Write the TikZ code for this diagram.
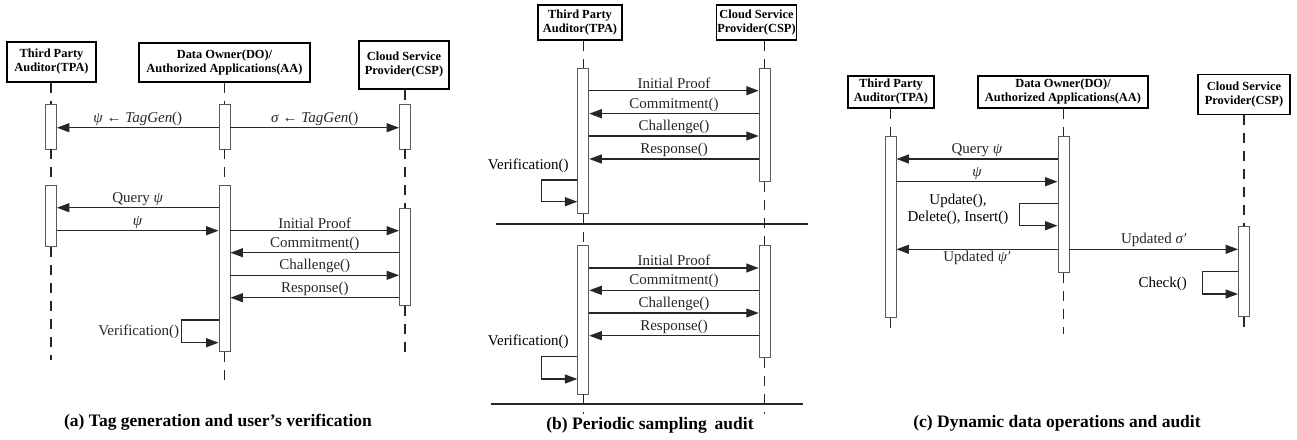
\documentclass[tikz,border=0pt]{standalone}
\usepackage{fontspec}
\setmainfont{Liberation Serif}
\usepackage{tikz}
\usetikzlibrary{arrows.meta}

\begin{document}
\begin{tikzpicture}[x=1pt, y=-1pt,
                      actorbox/.style={rectangle, draw, line width=1.2pt, align=center, inner sep=1pt, font=\fontsize{12.4}{14}\selectfont\bfseries},
                      actbox/.style={rectangle, draw=black!65, fill=white, line width=0.9pt, minimum width=11pt, inner sep=0pt},
                      lifeline/.style={dash pattern=on 10pt off 8pt, line width=1.1pt, black!85},
                      msg/.style={-{Triangle[length=12.5pt,width=9pt]}, line width=1.3pt, black!85},
                      lbl/.style={font=\fontsize{15}{17.5}\selectfont, inner sep=1.5pt},
                      caption/.style={font=\fontsize{17.5}{20}\selectfont\bfseries},
                  ]
                  \useasboundingbox (0,0) rectangle (1297,439);

                  %               %Nodes (a)
                  \node[actorbox, minimum width=89pt, minimum height=40pt]  (hA_T) at (51.5,62)  {Third Party\\Auditor(TPA)};
                  \node[actorbox, minimum width=171pt, minimum height=39pt] (hA_D) at (224.5,62.5) {Data Owner(DO)/\\Authorized Applications(AA)};
                  \node[actorbox, minimum width=90pt, minimum height=48pt]  (hA_C) at (404,65)   {Cloud Service\\Provider(CSP)};
                  \node[actbox, minimum height=45pt]    (aA_T1) at (51,126.5)    {};
                  \node[actbox, minimum height=45pt]    (aA_D1) at (224.5,126.5) {};
                  \node[actbox, minimum height=45pt]    (aA_C1) at (405,126.5)   {};
                  \node[actbox, minimum height=61pt]    (aA_T2) at (51,216.2)    {};
                  \node[actbox, minimum height=166pt]   (aA_D2) at (224.5,268.7) {};
                  \node[actbox, minimum height=96.7pt]  (aA_C2) at (405,256.7)   {};
                  \coordinate (eA_T) at (51,360);
                  \coordinate (eA_D) at (224.5,387);
                  \coordinate (eA_C) at (405,358);

                  %               %Nodes (b)
                  \node[actorbox, minimum width=84pt, minimum height=35pt]  (hB_T) at (580,22.5)   {Third Party\\Auditor(TPA)};
                  \node[actorbox, minimum width=77pt, minimum height=35pt]  (hB_C) at (756.5,22.5) {Cloud Service\\Provider(CSP)};
                  \node[actbox, minimum height=145pt]   (aB_T1) at (583.3,140.8) {};
                  \node[actbox, minimum height=112.7pt] (aB_C1) at (764.7,124.7) {};
                  \node[actbox, minimum height=149pt]   (aB_T2) at (583.3,319.5) {};
                  \node[actbox, minimum height=112.7pt] (aB_C2) at (764.7,301.3) {};
                  \coordinate (eB_T) at (583.3,414);
                  \coordinate (eB_C) at (764.7,414);

                  %               %Nodes (c)
                  \node[actorbox, minimum width=86pt, minimum height=32pt]  (hC_T) at (891,92)    {Third Party\\Auditor(TPA)};
                  \node[actorbox, minimum width=170pt, minimum height=32pt] (hC_D) at (1063,92)   {Data Owner(DO)/\\Authorized Applications(AA)};
                  \node[actorbox, minimum width=92pt, minimum height=40pt]  (hC_C) at (1244,94.3) {Cloud Service\\Provider(CSP)};
                  \node[actbox, minimum height=181pt]   (aC_T) at (890.5,227.2) {};
                  \node[actbox, minimum height=136pt]   (aC_D) at (1063.5,204.7) {};
                  \node[actbox, minimum height=90pt]    (aC_C) at (1244,271.7)  {};
                  \coordinate (eC_T) at (890.5,333);
                  \coordinate (eC_D) at (1063.5,334);
                  \coordinate (eC_C) at (1244,330);

                  %   %Lifelines
                  \draw[lifeline] (hA_T.south -| aA_T1) -- (aA_T1.north) (aA_T1.south) -- (aA_T2.north) (aA_T2.south) -- (eA_T);
                  \draw[lifeline] (hA_D.south -| aA_D1) -- (aA_D1.north) (aA_D1.south) -- (aA_D2.north) (aA_D2.south) -- (eA_D);
                  \draw[lifeline] (hA_C.south -| aA_C1) -- (aA_C1.north) (aA_C1.south) -- (aA_C2.north) (aA_C2.south) -- (eA_C);
                  \draw[lifeline] (hB_T.south -| aB_T1) -- (aB_T1.north) (aB_T1.south) -- (aB_T2.north) (aB_T2.south) -- (eB_T);
                  \draw[lifeline] (hB_C.south -| aB_C1) -- (aB_C1.north) (aB_C1.south) -- (aB_C2.north) (aB_C2.south) -- (eB_C);
                  \draw[lifeline] (hC_T.south -| aC_T) -- (aC_T.north) (aC_T.south) -- (eC_T);
                  \draw[lifeline] (hC_D.south -| aC_D) -- (aC_D.north) (aC_D.south) -- (eC_D);
                  \draw[lifeline] (hC_C.south -| aC_C) -- (aC_C.north) (aC_C.south) -- (eC_C);

                  %   %Lines (a)
                  \draw[msg] (aA_D1.west |- 0,127.7) -- (aA_T1.east |- 0,127.7) node[midway, above, lbl] {\textit{ψ} ← \textit{TagGen}()};
                  \draw[msg] (aA_D1.east |- 0,127.7) -- (aA_C1.west |- 0,127.7) node[midway, above, lbl] {\textit{σ} ← \textit{TagGen}()};
                  \draw[msg] (aA_D2.west |- 0,207.7) -- (aA_T2.east |- 0,207.7) node[midway, above, lbl] {Query \textit{ψ}};
                  \draw[msg] (aA_T2.east |- 0,230.7) -- (aA_D2.west |- 0,230.7) node[midway, above, lbl] {\textit{ψ}};
                  \draw[msg] (aA_D2.east |- 0,230.7) -- (aA_C2.west |- 0,230.7) node[midway, above, lbl] {Initial Proof};
                  \draw[msg] (aA_C2.west |- 0,252.7) -- (aA_D2.east |- 0,252.7) node[midway, above, lbl] {Commitment()};
                  \draw[msg] (aA_D2.east |- 0,275.3) -- (aA_C2.west |- 0,275.3) node[midway, above, lbl] {Challenge()};
                  \draw[msg] (aA_C2.west |- 0,297.7) -- (aA_D2.east |- 0,297.7) node[midway, above, lbl] {Response()};
                  \draw[msg] (aA_D2.west |- 0,320) -- ++(-37.3,0) -- ++(0,22.7) node[midway, left, lbl] {Verification()} -- (aA_D2.west |- 0,342.7);

                  %   %Lines (b)
                  \draw[msg] (aB_T1.east |- 0,90.7)  -- (aB_C1.west |- 0,90.7)  node[midway, above, lbl] {Initial Proof};
                  \draw[msg] (aB_C1.west |- 0,113.7) -- (aB_T1.east |- 0,113.7) node[midway, above, lbl] {Commitment()};
                  \draw[msg] (aB_T1.east |- 0,136)   -- (aB_C1.west |- 0,136)   node[midway, above, lbl] {Challenge()};
                  \draw[msg] (aB_C1.west |- 0,159)   -- (aB_T1.east |- 0,159)   node[midway, above, lbl] {Response()};
                  \node[lbl] (vB1) at (528.3,165.7) {Verification()};
                  \draw[msg] (aB_T1.west |- 0,180) -- ++(-36,0) -- ++(0,21.7) -- (aB_T1.west |- 0,201.7);
                  \draw[line width=1.1pt, black!85] (496,224) -- (808,224);
                  \draw[msg] (aB_T2.east |- 0,268)   -- (aB_C2.west |- 0,268)   node[midway, above, lbl] {Initial Proof};
                  \draw[msg] (aB_C2.west |- 0,290.3) -- (aB_T2.east |- 0,290.3) node[midway, above, lbl] {Commitment()};
                  \draw[msg] (aB_T2.east |- 0,313)   -- (aB_C2.west |- 0,313)   node[midway, above, lbl] {Challenge()};
                  \draw[msg] (aB_C2.west |- 0,335.7) -- (aB_T2.east |- 0,335.7) node[midway, above, lbl] {Response()};
                  \node[lbl] (vB2) at (528.3,341.7) {Verification()};
                  \draw[msg] (aB_T2.west |- 0,356.7) -- ++(-36,0) -- ++(0,22.3) -- (aB_T2.west |- 0,379);
                  \draw[line width=1.1pt, black!85] (491,404) -- (803,404);

                  %   %Lines (c)
                  \draw[msg] (aC_D.west |- 0,159)   -- (aC_T.east |- 0,159)   node[midway, above, lbl] {Query \textit{ψ}};
                  \draw[msg] (aC_T.east |- 0,181.7) -- (aC_D.west |- 0,181.7) node[midway, above, lbl] {\textit{ψ}};
                  \node[lbl, align=center] (uC) at (958,209.5) {Update(),\\Delete(), Insert()};
                  \draw[msg] (aC_D.west |- 0,203.3) -- ++(-38,0) -- ++(0,22.4) -- (aC_D.west |- 0,225.7);
                  \draw[msg] (aC_D.west |- 0,249.3) -- (aC_T.east |- 0,249.3) node[midway, below, lbl] {Updated \textit{ψ′}};
                  \draw[msg] (aC_D.east |- 0,249.3) -- (aC_C.west |- 0,249.3) node[midway, above, lbl] {Updated \textit{σ′}};
                  \node[lbl] (kC) at (1162.7,284.3) {Check()};
                  \draw[msg] (aC_C.west |- 0,271.7) -- ++(-35.7,0) -- ++(0,22.3) -- (aC_C.west |- 0,294);

                  %   %Captions
                  \node[caption] (capA) at (218,422.7)  {(a) Tag generation and user's verification};
                  \node[caption] (capB) at (650,425.7)  {(b) Periodic sampling\hspace{0.2em} audit};
                  \node[caption] (capC) at (1057,423.3) {(c) Dynamic data operations and audit};
              \end{tikzpicture}
\end{document}
